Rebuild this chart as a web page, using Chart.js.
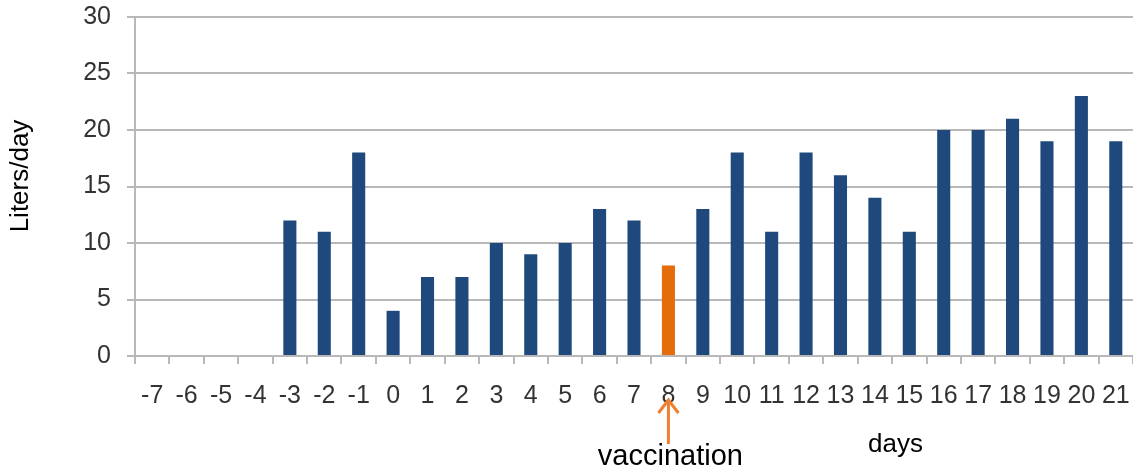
<!DOCTYPE html>
<html>
<head>
<meta charset="utf-8">
<script src="https://cdn.jsdelivr.net/npm/chart.js@4.4.0/dist/chart.umd.min.js"></script>
<style>
html,body{margin:0;padding:0;background:#fff;}
#wrap{width:1133px;height:471px;position:relative;}
</style>
</head>
<body>
<div id="wrap"><canvas id="c" width="1133" height="471"></canvas></div>
<script>
const days = [-7,-6,-5,-4,-3,-2,-1,0,1,2,3,4,5,6,7,8,9,10,11,12,13,14,15,16,17,18,19,20,21];
const litersPerDay = [null,null,null,null,12,11,18,4,7,7,10,9,10,13,12,8,13,18,11,18,16,14,11,20,20,21,19,23,19];
const yTicks = [0,5,10,15,20,25,30];
const vaccinationDay = 8;
const yTitle = 'Liters/day';
const xTitle = 'days';
const annotationText = 'vaccination';

const BLUE = '#1F497D';
const ORANGE = '#E46C0A';
const GRID = '#b8b8b8';
const FONT = '"Liberation Sans", Arial, sans-serif';

const barColors = days.map(d => d === vaccinationDay ? ORANGE : BLUE);

function zeroPad(scale) {
  scale.paddingTop = 0; scale.paddingBottom = 0;
  scale.paddingLeft = 0; scale.paddingRight = 0;
}

const annotationPlugin = {
  id: 'annot',
  afterDraw(chart) {
    const ctx = chart.ctx;
    const xs = chart.scales.x;
    const idx = days.indexOf(vaccinationDay);
    const ax = xs.getPixelForValue(idx);
    ctx.save();
    ctx.fillStyle = '#000';
    ctx.font = '26px ' + FONT;
    ctx.textAlign = 'center';
    ctx.textBaseline = 'middle';
    ctx.save();
    ctx.translate(21, 176);
    ctx.rotate(-Math.PI/2);
    ctx.fillText(yTitle, 0, 0);
    ctx.restore();
    ctx.font = '26px ' + FONT;
    ctx.textAlign = 'left';
    ctx.textBaseline = 'alphabetic';
    ctx.fillText(xTitle, 868, 452);
    ctx.font = '29px ' + FONT;
    ctx.textAlign = 'center';
    ctx.fillText(annotationText, ax + 2, 465);
    ctx.strokeStyle = '#F07F30';
    ctx.lineWidth = 3;
    ctx.beginPath();
    ctx.moveTo(ax, 444);
    ctx.lineTo(ax, 401);
    ctx.stroke();
    ctx.beginPath();
    ctx.moveTo(ax - 10, 413);
    ctx.lineTo(ax, 400);
    ctx.lineTo(ax + 10, 413);
    ctx.stroke();
    ctx.restore();
  }
};

new Chart(document.getElementById('c'), {
  type: 'bar',
  data: {
    labels: days.map(String),
    datasets: [{
      data: litersPerDay,
      backgroundColor: barColors,
      borderWidth: 0,
      barPercentage: 0.38,
      categoryPercentage: 1.0
    }]
  },
  options: {
    responsive: false,
    animation: false,
    devicePixelRatio: 1,
    layout: { padding: { top: 17, right: 0, left: 0, bottom: 0 } },
    plugins: { legend: { display: false }, tooltip: { enabled: false } },
    scales: {
      x: {
        grid: { display: true, drawOnChartArea: false, drawTicks: true, tickLength: 8, color: GRID, lineWidth: 2, offset: true },
        border: { display: true, color: GRID, width: 2 },
        ticks: { color: '#333333', font: { family: FONT, size: 25 }, padding: 17, maxRotation: 0, autoSkip: false },
        afterFit(scale) { scale.height = 115; zeroPad(scale); }
      },
      y: {
        min: 0, max: 30,
        afterBuildTicks(scale) { scale.ticks = yTicks.map(v => ({ value: v })); },
        grid: { color: GRID, lineWidth: 2, tickLength: 8, drawTicks: true },
        border: { display: true, color: GRID, width: 2 },
        ticks: { color: '#333333', font: { family: FONT, size: 25 }, padding: 16 },
        afterFit(scale) { scale.width = 135; zeroPad(scale); }
      }
    }
  },
  plugins: [annotationPlugin]
});
</script>
</body>
</html>
